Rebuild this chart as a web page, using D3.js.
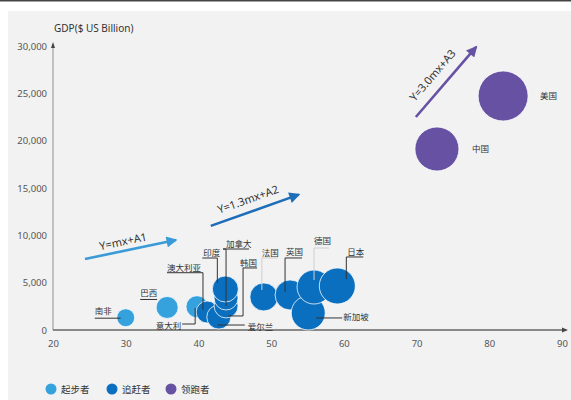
<!DOCTYPE html>
<html>
<head>
<meta charset="utf-8">
<script src="https://cdn.jsdelivr.net/npm/d3@7"></script>
<style>
  body { margin: 0; background: #fff; }
  svg { display: block; font-family: "Noto Sans", "Noto Sans CJK SC", sans-serif; }
</style>
</head>
<body>
<div id="chart"></div>
<script>
// bubble data
const countries = ['南非', '巴西', '澳大利亚', '意大利', '爱尔兰', '韩国', '加拿大', '印度',
                   '法国', '英国', '新加坡', '德国', '日本', '中国', '美国'];
const xValues   = [30.0, 35.7, 39.8, 41.2, 42.8, 43.8, 43.8, 43.7, 49.0, 52.6, 55.1, 55.9, 59.1, 72.8, 81.9];
const gdpValues = [1300, 2380, 2460, 1900, 1370, 2540, 3380, 4330, 3490, 3700, 1800, 4540, 4650, 19120, 24720];
const sizeValues = [81, 121, 121, 121, 144, 144, 144, 169, 196, 225, 289, 289, 324, 484, 625];
const groups    = ['起步者', '起步者', '起步者', '追赶者', '追赶者', '追赶者', '追赶者', '追赶者',
                   '追赶者', '追赶者', '追赶者', '追赶者', '追赶者', '领跑者', '领跑者'];

const groupNames = ['起步者', '追赶者', '领跑者'];
const xTicks = [20, 30, 40, 50, 60, 70, 80, 90];
const yTicks = [0, 5000, 10000, 15000, 20000, 25000, 30000];

// trend arrows (data units)
const trendLabels = ['Y=mx+A1', 'Y=1.3mx+A2', 'Y=3.0mx+A3'];
const trendFrom = [[24.4, 7500], [41.7, 11000], [69.9, 22500]];
const trendTo   = [[36.9, 9500], [53.8, 14300], [78.2, 29900]];

// label placement: offsets in px from bubble centre
const labelLayout = {
  '南非':   { dx: -31, dy: -4,  anchor: 'start', line: [[-31, 0.5], [-5, 0.5]], tone: 'dark' },
  '巴西':   { dx: -27, dy: -11, anchor: 'start', line: [[-27, -8], [-10, -8]], tone: 'dark' },
  '澳大利亚': { dx: -30, dy: -36, anchor: 'start', line: [[-30, -34], [6, -34], [6, 3]], tone: 'dark' },
  '意大利': { dx: -26, dy: 17,  anchor: 'end',   line: [[-25, 12], [-12, 12], [-12, -4]], tone: 'dark' },
  '爱尔兰': { dx: 29,  dy: 13,  anchor: 'start', line: [[26, 8], [-1, 8]], tone: 'dark' },
  '韩国':   { dx: 14,  dy: -40, anchor: 'start', line: [[31, -38], [17, -38], [17, 10], [2, 10]], tone: 'dark' },
  '加拿大': { dx: 0,   dy: -51, anchor: 'start', line: [[23, -49], [-3, -49], [0, -49], [0, 8]], tone: 'dark' },
  '印度':   { dx: -22, dy: -33, anchor: 'start', line: [[-23, -31], [-8, -31], [-8, -6]], tone: 'dark' },
  '法国':   { dx: -2,  dy: -41, anchor: 'start', line: [[14, -39], [-2, -39], [-2, -7]], tone: 'light' },
  '英国':   { dx: -4,  dy: -40, anchor: 'start', line: [[12, -37], [-5, -37], [-5, -3]], tone: 'dark' },
  '新加坡': { dx: 35,  dy: 7,   anchor: 'start', line: [[34, 5], [8, 5]], tone: 'dark' },
  '德国':   { dx: 0,   dy: -43, anchor: 'start', line: [[15, -39], [0, -39], [0, -7]], tone: 'light' },
  '日本':   { dx: 10,  dy: -31, anchor: 'start', line: [[26, -29], [9, -29], [9, -7]], tone: 'dark' },
  '中国':   { dx: 35,  dy: 3,   anchor: 'start', line: null },
  '美国':   { dx: 37,  dy: 3,   anchor: 'start', line: null }
};

const W = 571, H = 400;
const colors = d3.scaleOrdinal().domain(groupNames).range(['#35a2de', '#0a6fbf', '#6651a3']);
const trendColors = ['#3a9bd8', '#1e6db8', '#6651a3'];

const svg = d3.select('#chart').append('svg').attr('width', W).attr('height', H);

// page frame
svg.append('rect').attr('width', W).attr('height', H).attr('fill', '#fff');
svg.append('rect').attr('width', W).attr('height', 1.5).attr('fill', '#444');
svg.append('rect').attr('x', 8).attr('y', 11).attr('width', W - 8).attr('height', H - 11).attr('fill', '#f2f2f2');

const x = d3.scaleLinear().domain([20, 90]).range([53, 562]);
const y = d3.scaleLinear().domain([0, 30000]).range([330, 46]);
const r = d3.scaleSqrt().domain([0, 625]).range([0, 25]);

// axes
const yAxis = svg.append('g')
  .attr('transform', `translate(${x(20)},0)`)
  .call(d3.axisLeft(y).tickValues(yTicks).tickSize(0).tickPadding(6).tickFormat(d3.format(',')));
yAxis.select('.domain').remove();
yAxis.selectAll('text').attr('font-size', 9.5).attr('fill', '#555').attr('font-family', '"Liberation Sans Narrow", "Noto Sans", sans-serif');

const xAxis = svg.append('g')
  .attr('transform', `translate(0,${y(0)})`)
  .call(d3.axisBottom(x).tickValues(xTicks).tickSize(0).tickPadding(10));
xAxis.select('.domain').remove();
xAxis.selectAll('text').attr('font-size', 9.5).attr('fill', '#555').attr('font-family', '"Liberation Sans Narrow", "Noto Sans", sans-serif');

svg.append('line')
  .attr('x1', x(20)).attr('x2', x(20))
  .attr('y1', y(0)).attr('y2', y(30000) - 2)
  .attr('stroke', '#8f8f8f').attr('stroke-width', 1);
svg.append('path')
  .attr('d', `M${x(20) - 2},${y(30000) + 2} L${x(20)},${y(30000) - 4} L${x(20) + 2},${y(30000) + 2} Z`)
  .attr('fill', '#444');
svg.append('line')
  .attr('x1', x(20)).attr('x2', x(90) + 2)
  .attr('y1', y(0)).attr('y2', y(0))
  .attr('stroke', '#666').attr('stroke-width', 1.4);
svg.append('path')
  .attr('d', `M${x(90)},${y(0) - 2.5} L${x(90) + 6},${y(0)} L${x(90)},${y(0) + 2.5} Z`)
  .attr('fill', '#444');

svg.append('text')
  .attr('x', 54).attr('y', 32)
  .attr('font-size', 10).attr('fill', '#333')
  .text('GDP($ US Billion)');

// trend arrows
const defs = svg.append('defs');
trendColors.forEach((c, i) => {
  defs.append('marker')
    .attr('id', 'arrow' + i)
    .attr('viewBox', '0 0 10 10')
    .attr('refX', 8.5).attr('refY', 5)
    .attr('markerUnits', 'userSpaceOnUse')
    .attr('markerWidth', 12).attr('markerHeight', 11)
    .attr('orient', 'auto')
    .append('path').attr('d', 'M0,0 L10,5 L0,10 Z').attr('fill', c);
});

const trendOffsets = [10, 13, 15];
const trendPos = [0.44, 0.47, 0.46];
trendLabels.forEach((label, i) => {
  const x1 = x(trendFrom[i][0]), y1 = y(trendFrom[i][1]);
  const x2 = x(trendTo[i][0]), y2 = y(trendTo[i][1]);
  svg.append('line')
    .attr('x1', x1).attr('y1', y1).attr('x2', x2).attr('y2', y2)
    .attr('stroke', trendColors[i]).attr('stroke-width', 2.6)
    .attr('marker-end', `url(#arrow${i})`);
  const len = Math.hypot(x2 - x1, y2 - y1);
  const ux = (x2 - x1) / len, uy = (y2 - y1) / len;
  const t = trendPos[i] * len;
  const cx = x1 + ux * t + uy * trendOffsets[i];
  const cy = y1 + uy * t - ux * trendOffsets[i];
  const ang = Math.atan2(y2 - y1, x2 - x1) * 180 / Math.PI;
  svg.append('text')
    .attr('transform', `translate(${cx},${cy}) rotate(${ang})`)
    .attr('text-anchor', 'middle')
    .attr('dominant-baseline', 'central')
    .attr('font-size', 11).attr('fill', '#333')
    .text(label);
});

// bubbles
const data = countries.map((name, i) => ({
  name, xv: xValues[i], gdp: gdpValues[i], size: sizeValues[i], group: groups[i]
}));

// draw lower bubbles of a stack first so upper outlines show
svg.append('g').selectAll('circle')
  .data(data)
  .join('circle')
  .attr('cx', d => x(d.xv))
  .attr('cy', d => y(d.gdp))
  .attr('r', d => r(d.size))
  .attr('fill', d => colors(d.group))
  .attr('stroke', '#fff')
  .attr('stroke-opacity', 0.85)
  .attr('stroke-width', 0.9);

// labels + leader lines
const lab = svg.append('g');
data.forEach(d => {
  const L = labelLayout[d.name];
  const cx = x(d.xv), cy = y(d.gdp);
  if (L.line) {
    lab.append('path')
      .attr('d', d3.line()(L.line.map(p => [cx + p[0], cy + p[1]])))
      .attr('fill', 'none')
      .attr('stroke', L.tone === 'light' ? '#cfcfcf' : '#333')
      .attr('stroke-width', 1);
  }
  lab.append('text')
    .attr('x', cx + L.dx).attr('y', cy + L.dy)
    .attr('text-anchor', L.anchor)
    .attr('font-size', 8.5).attr('fill', '#333')
    .attr('font-family', '"Noto Sans CJK SC", sans-serif')
    .text(d.name);
});

// legend
const legendX = [51, 112, 171];
const legend = svg.append('g');
groupNames.forEach((g, i) => {
  legend.append('circle').attr('cx', legendX[i]).attr('cy', 389).attr('r', 5.5).attr('fill', colors(g));
  legend.append('text')
    .attr('x', legendX[i] + 10).attr('y', 389)
    .attr('dominant-baseline', 'central')
    .attr('font-size', 9.5).attr('fill', '#333')
    .attr('font-family', '"Noto Sans CJK SC", sans-serif')
    .text(g);
});
</script>
</body>
</html>
